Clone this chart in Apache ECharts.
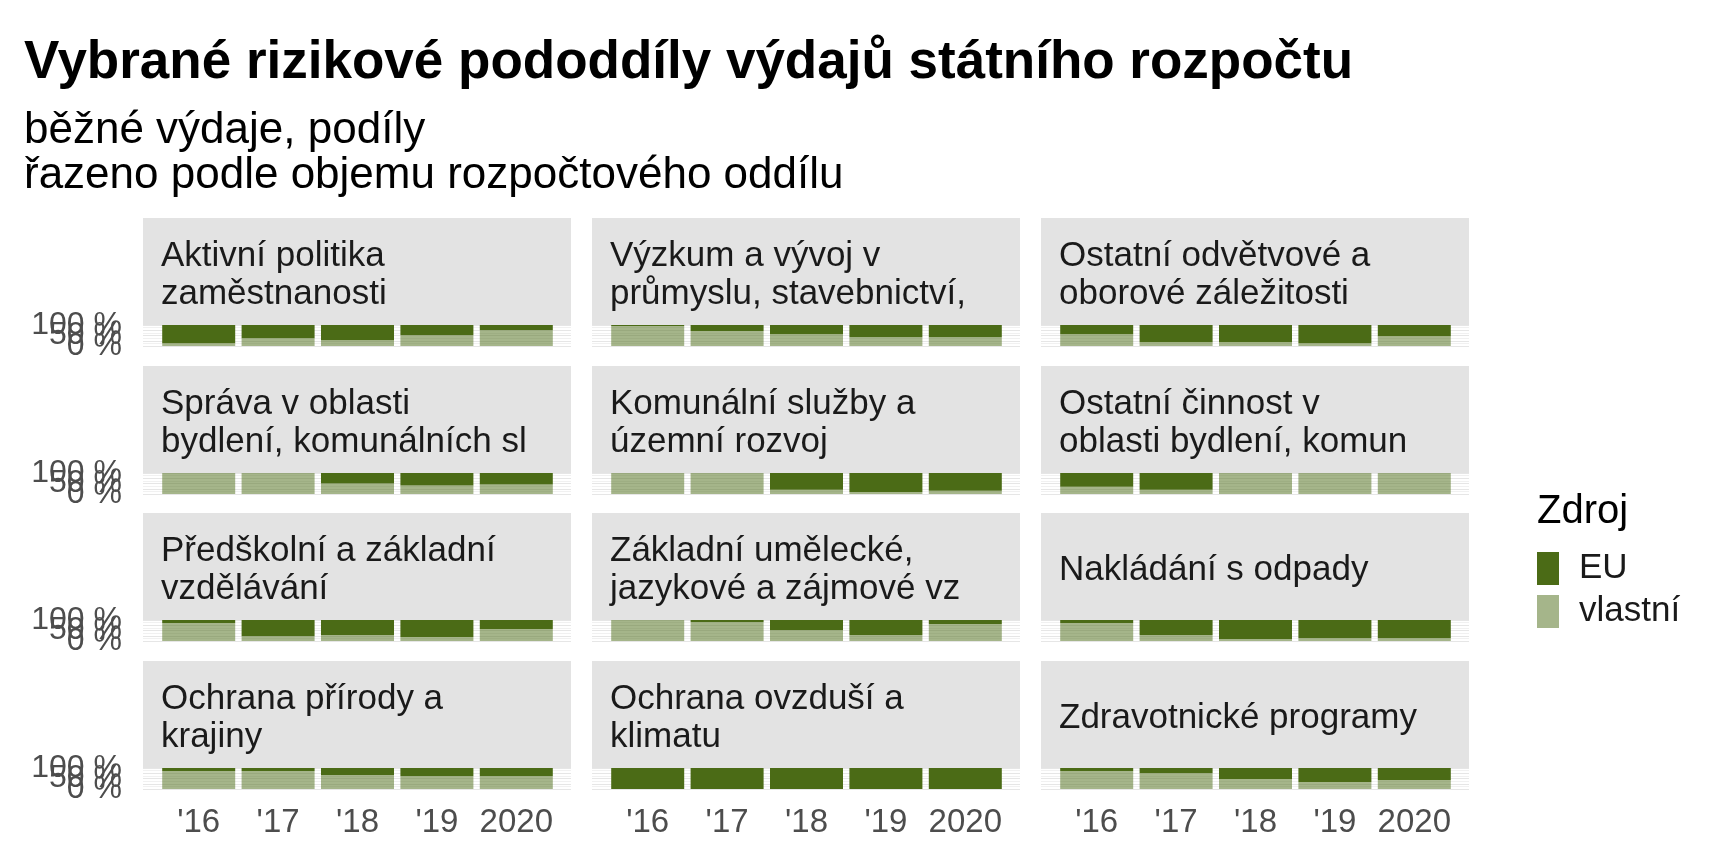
<!DOCTYPE html>
<html>
<head>
<meta charset="utf-8">
<script src="https://cdn.jsdelivr.net/npm/echarts@6/dist/echarts.min.js"></script>
<style>html,body{margin:0;padding:0;background:#fff}#c{width:1728px;height:864px}</style>
</head>
<body>
<div id="c"></div>
<script>
// ---- data ----
const years = ["'16", "'17", "'18", "'19", "2020"];
const yTicks = [0, 25, 50, 75, 100];
const panelNames = [
  "Aktivní politika\nzaměstnanosti",
  "Výzkum a vývoj v\nprůmyslu, stavebnictví,",
  "Ostatní odvětvové a\noborové záležitosti",
  "Správa v oblasti\nbydlení, komunálních sl",
  "Komunální služby a\núzemní rozvoj",
  "Ostatní činnost v\noblasti bydlení, komun",
  "Předškolní a základní\nvzdělávání",
  "Základní umělecké,\njazykové a zájmové vz",
  "Nakládání s odpady",
  "Ochrana přírody a\nkrajiny",
  "Ochrana ovzduší a\nklimatu",
  "Zdravotnické programy"
];
const euAktivni      = [87, 63, 73, 48, 24];
const ownAktivni     = [13, 37, 27, 52, 76];
const euVyzkum       = [5, 29, 44, 58, 58];
const ownVyzkum      = [95, 71, 56, 42, 42];
const euOdvetvove    = [44, 82, 82, 87, 53];
const ownOdvetvove   = [56, 18, 18, 13, 47];
const euSprava       = [0, 0, 50, 60, 55];
const ownSprava      = [100, 100, 50, 40, 45];
const euKomunalni    = [0, 0, 80, 90, 85];
const ownKomunalni   = [100, 100, 20, 10, 15];
const euOstatniBydl  = [65, 80, 0, 0, 0];
const ownOstatniBydl = [35, 20, 100, 100, 100];
const euPredskolni   = [14, 76, 71, 81, 43];
const ownPredskolni  = [86, 24, 29, 19, 57];
const euUmelecke     = [0, 10, 48, 71, 19];
const ownUmelecke    = [100, 90, 52, 29, 81];
const euOdpady       = [14, 71, 90, 86, 86];
const ownOdpady      = [86, 29, 10, 14, 14];
const euPriroda      = [14, 14, 33, 38, 38];
const ownPriroda     = [86, 86, 67, 62, 62];
const euOvzdusi      = [100, 100, 100, 100, 100];
const ownOvzdusi     = [0, 0, 0, 0, 0];
const euZdrav        = [14, 24, 52, 67, 57];
const ownZdrav       = [86, 76, 48, 33, 43];

const euList = [euAktivni, euVyzkum, euOdvetvove, euSprava, euKomunalni, euOstatniBydl,
                euPredskolni, euUmelecke, euOdpady, euPriroda, euOvzdusi, euZdrav];
const ownList = [ownAktivni, ownVyzkum, ownOdvetvove, ownSprava, ownKomunalni, ownOstatniBydl,
                 ownPredskolni, ownUmelecke, ownOdpady, ownPriroda, ownOvzdusi, ownZdrav];

// ---- layout ----
const FONT = "'Liberation Sans', Arial, sans-serif";
const colLeft = [143, 592, 1041];
const panelW = 428;
const barInset = 16;      // panel edge to first category band
const bandsW = 397;       // width of the 5 category bands
const plotTop = [325, 473, 620, 768];
const plotH = 21;
const stripH = 107;
const DARK = '#4b6b16';
const LIGHT = 'rgba(75,107,22,0.5)';

const grids = [], xAxes = [], yAxes = [], series = [], graphics = [];

graphics.push({type:'text', style:{text:'Vybrané rizikové pododdíly výdajů státního rozpočtu', x:24, y:63,
  font:'bold 53px ' + FONT, fill:'#000', textAlign:'left', textVerticalAlign:'middle'}});
graphics.push({type:'text', style:{text:'běžné výdaje, podíly', x:24, y:131,
  font:'44px ' + FONT, fill:'#000', textAlign:'left', textVerticalAlign:'middle'}});
graphics.push({type:'text', style:{text:'řazeno podle objemu rozpočtového oddílu', x:24, y:176,
  font:'44px ' + FONT, fill:'#000', textAlign:'left', textVerticalAlign:'middle'}});
graphics.push({type:'text', style:{text:'Zdroj', x:1537, y:512,
  font:'40px ' + FONT, fill:'#000', textAlign:'left', textVerticalAlign:'middle'}});

// background grids (gridlines + y labels)
for (let k = 0; k < 12; k++) {
  const r = Math.floor(k / 3), c = k % 3;
  grids.push({left: colLeft[c], top: plotTop[r], width: panelW, height: plotH});
  graphics.push({type:'rect', shape:{x: colLeft[c], y: plotTop[r] - stripH, width: panelW, height: stripH},
    style:{fill:'#e3e3e3'}, z: -1});
  graphics.push({type:'text', style:{text: panelNames[k], x: colLeft[c] + 18, y: plotTop[r] - stripH / 2 + 4,
    font:'35px ' + FONT, fill:'#1a1a1a', textAlign:'left', textVerticalAlign:'middle', lineHeight: 38}});
  xAxes.push({gridIndex: k, type: 'value', min: 0, max: 1, show: false});
  yAxes.push({
    gridIndex: k, type: 'value', min: 0, max: 100, interval: 25,
    axisLine: {show: false}, axisTick: {show: false},
    axisLabel: c === 0 ? {show: true, formatter: v => v + ' %', fontSize: 32, fontFamily: FONT,
      color: '#4d4d4d', margin: 21, showMinLabel: true, showMaxLabel: true, hideOverlap: false} : {show: false},
    splitLine: {show: true, lineStyle: {color: '#e6e6e6', width: 1}},
    minorTick: {show: false, splitNumber: 2},
    minorSplitLine: {show: true, lineStyle: {color: '#f1f1f1', width: 1}}
  });
}
// bar grids
for (let k = 0; k < 12; k++) {
  const r = Math.floor(k / 3), c = k % 3;
  const g = 12 + k;
  grids.push({left: colLeft[c] + barInset, top: plotTop[r], width: bandsW, height: plotH});
  xAxes.push({
    gridIndex: g, type: 'category', data: years, boundaryGap: true,
    axisLine: {show: false}, axisTick: {show: false}, splitLine: {show: false},
    axisLabel: r === 3 ? {show: true, interval: 0, fontSize: 33, fontFamily: FONT, color: '#4d4d4d', margin: 17}
      : {show: false}
  });
  yAxes.push({gridIndex: g, type: 'value', min: 0, max: 100, show: false, splitLine: {show: false}});
  series.push({
    type: 'bar', name: 'vlastní', xAxisIndex: g, yAxisIndex: g, stack: 's' + k, barWidth: 73,
    data: ownList[k], itemStyle: {color: LIGHT}, silent: true
  });
  series.push({
    type: 'bar', name: 'EU', xAxisIndex: g, yAxisIndex: g, stack: 's' + k, barWidth: 73,
    data: euList[k], itemStyle: {color: DARK}, silent: true
  });
}

const chart = echarts.init(document.getElementById('c'), null, {renderer: 'canvas'});
chart.setOption({
  backgroundColor: '#ffffff',
  animation: false,
  grid: grids, xAxis: xAxes, yAxis: yAxes, series: series,
  legend: {
    data: ['EU', 'vlastní'], orient: 'vertical', left: 1537, top: 551, padding: 0,
    itemWidth: 22, itemHeight: 33, itemGap: 8, icon: 'rect', selectedMode: false,
    textStyle: {fontSize: 35, fontFamily: FONT, color: '#1a1a1a', padding: [0, 0, 0, 15]}
  },
  graphic: graphics
});
</script>
</body>
</html>
